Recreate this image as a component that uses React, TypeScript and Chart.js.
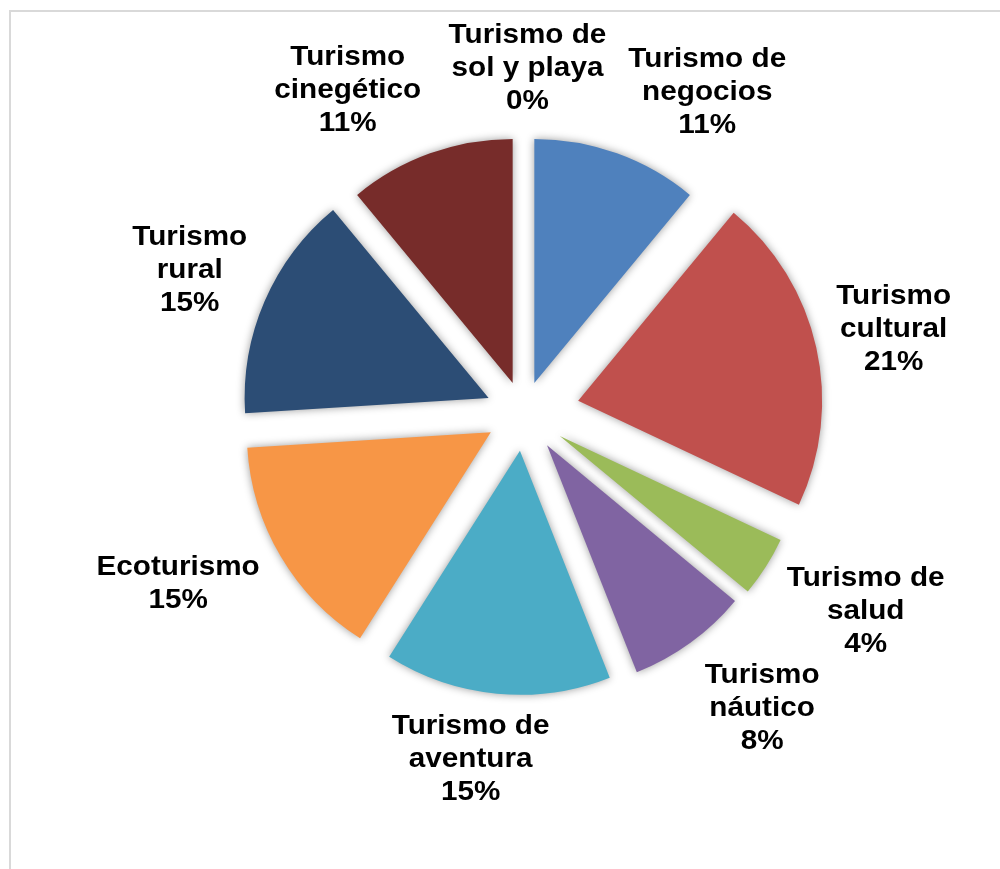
import React, { useEffect, useRef } from "react";
import { Chart, registerables } from "chart.js";

Chart.register(...registerables);

// ---- data ----
const categories = [
  "Turismo de negocios",
  "Turismo cultural",
  "Turismo de salud",
  "Turismo náutico",
  "Turismo de aventura",
  "Ecoturismo",
  "Turismo rural",
  "Turismo cinegético",
  "Turismo de sol y playa",
];
const shares = [11, 21, 4, 8, 15, 15, 15, 11, 0];

// ---- styling ----
const sliceColors = [
  "#4F81BD",
  "#C0504D",
  "#9BBB59",
  "#8064A2",
  "#4BACC6",
  "#F79646",
  "#2C4D75",
  "#772C2A",
  "#5F7530",
];
const explodePx = [32, 56, 43, 40, 38, 38, 38, 32, 0];
const labelNudge: [number, number][] = [
  [53, 40],
  [-30, 3],
  [7, -17],
  [7, -26],
  [-16, -46],
  [-8, -31],
  [26, 11],
  [-45, 38],
  [4, 7],
];
const FONT_SIZE = 28;
const LINE_H = 33;
const MAX_W = 170;
const LABEL_GAP = 110;
const TEXT_STRETCH = 1.06;
const FONT = `bold ${FONT_SIZE}px "Liberation Sans", Arial, sans-serif`;

function wrapText(ctx: CanvasRenderingContext2D, text: string, maxW: number): string[] {
  const words = text.split(" ");
  const lines: string[] = [];
  let cur = "";
  for (const w of words) {
    const test = cur ? cur + " " + w : w;
    if (cur && ctx.measureText(test).width > maxW) {
      lines.push(cur);
      cur = w;
    } else {
      cur = test;
    }
  }
  if (cur) lines.push(cur);
  return lines;
}

const explodePlugin = {
  id: "explodeSlices",
  afterDatasetUpdate(chart: any, args: any) {
    const arcs = args.meta.data;
    arcs.forEach((arc: any, i: number) => {
      const mid = (arc.startAngle + arc.endAngle) / 2;
      const d = explodePx[i] || 0;
      arc.x += Math.cos(mid) * d;
      arc.y += Math.sin(mid) * d;
    });
  },
  beforeDatasetsDraw(chart: any) {
    const ctx = chart.ctx;
    ctx.save();
    ctx.shadowColor = "rgba(0,0,0,0.4)";
    ctx.shadowBlur = 8;
    ctx.shadowOffsetX = 0;
    ctx.shadowOffsetY = 0;
  },
  afterDatasetsDraw(chart: any) {
    const ctx = chart.ctx;
    ctx.restore();
    const meta = chart.getDatasetMeta(0);
    const total = shares.reduce((a, b) => a + b, 0);
    ctx.save();
    ctx.font = FONT;
    ctx.fillStyle = "#000000";
    ctx.textAlign = "center";
    ctx.textBaseline = "alphabetic";
    const capH = FONT_SIZE * 0.716;
    meta.data.forEach((arc: any, i: number) => {
      const mid = (arc.startAngle + arc.endAngle) / 2;
      const r = arc.outerRadius + LABEL_GAP;
      const cx = arc.x + r * Math.cos(mid) + labelNudge[i][0];
      const cy = arc.y + r * Math.sin(mid) + labelNudge[i][1];
      const pct = Math.round((shares[i] / total) * 100) + "%";
      const lines = [...wrapText(ctx, categories[i], MAX_W), pct];
      const n = lines.length;
      lines.forEach((ln, k) => {
        const baseline = cy + (k - (n - 1) / 2) * LINE_H + capH / 2;
        ctx.save();
        ctx.translate(cx, baseline);
        ctx.scale(TEXT_STRETCH, 1);
        ctx.fillText(ln, 0, 0);
        ctx.restore();
      });
    });
    ctx.restore();
  },
};

export default function App() {
  const canvasRef = useRef<HTMLCanvasElement | null>(null);

  useEffect(() => {
    if (!canvasRef.current) return;
    const chart = new Chart(canvasRef.current, {
      type: "pie",
      data: {
        labels: categories,
        datasets: [
          {
            data: shares,
            backgroundColor: sliceColors,
            borderWidth: 0,
          },
        ],
      },
      options: {
        responsive: false,
        animation: false,
        events: [],
        radius: 244,
        layout: { padding: { left: 47, top: 0, right: 0, bottom: 43 } },
        plugins: {
          legend: { display: false },
          title: { display: false },
          tooltip: { enabled: false },
        },
      } as any,
      plugins: [explodePlugin],
    });
    return () => chart.destroy();
  }, []);

  return (
    <div
      style={{
        position: "relative",
        width: 984,
        height: 853,
        background: "#ffffff",
      }}
    >
      <div
        style={{
          position: "fixed",
          left: 9,
          top: 10,
          width: 1100,
          height: 1000,
          boxSizing: "border-box",
          borderLeft: "2px solid #d9d9d9",
          borderTop: "2px solid #d9d9d9",
          pointerEvents: "none",
        }}
      />
      <canvas
        ref={canvasRef}
        width={984}
        height={853}
        style={{ position: "absolute", left: 0, top: 0, display: "block" }}
      />
    </div>
  );
}
